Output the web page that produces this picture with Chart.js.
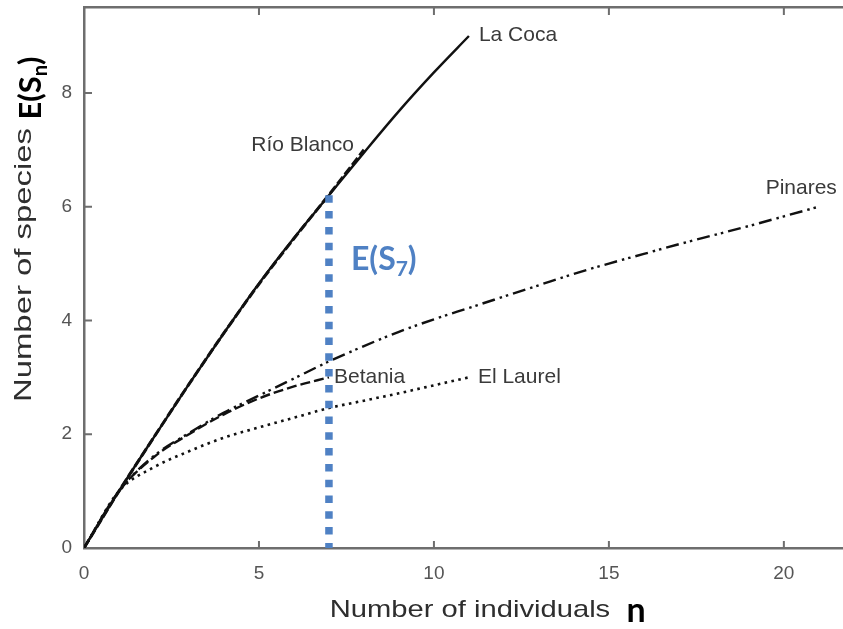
<!DOCTYPE html>
<html>
<head>
<meta charset="utf-8">
<script src="https://cdn.jsdelivr.net/npm/chart.js@4/dist/chart.umd.min.js"></script>
<style>
html,body{margin:0;padding:0;background:#fff;}
#wrap{width:843px;height:629px;position:relative;}
canvas{display:block;}
</style>
</head>
<body>
<div id="wrap"><canvas id="c" width="843" height="629"></canvas></div>
<script>
// ---- data ----
const nIndividuals = [0,1,2,3,4,5,6,7,8,9,10,11,12,13,14,15,16,17,18,19,20,21];
const laCoca    = [0, 1, 1.95, 2.88, 3.78, 4.65, 5.45, 6.2, 6.95, 7.68, 8.36, 9.0];
const rioBlanco = [0, 1, 1.95, 2.88, 3.78, 4.64, 5.44, 6.21, 7.0];
const betania   = [0, 1, 1.6, 2.0, 2.35, 2.63, 2.84, 3.0];
const pinares   = [0, 1, 1.62, 2.02, 2.38, 2.68, 2.98, 3.28, 3.55, 3.8, 4.02, 4.22, 4.42, 4.62, 4.82, 5.0, 5.17, 5.34, 5.5, 5.66, 5.83, 6.0];
const elLaurel  = [0, 1, 1.42, 1.7, 1.94, 2.12, 2.29, 2.46, 2.59, 2.72, 2.86, 3.0];
const siteNames = ['La Coca', 'Río Blanco', 'Betania', 'Pinares', 'El Laurel'];
const markerN = 7;
const markerTop = 6.2;
const xTicks = [0, 5, 10, 15, 20];
const yTicks = [0, 2, 4, 6, 8];
const xTitle = 'Number of individuals';
const yTitle = 'Number of species';

const toXY = arr => arr.map((s, i) => ({x: nIndividuals[i], y: s}));

const AXIS = '#6e6e6e';
const INK = '#111';

const base = {type: 'line', pointRadius: 0, fill: false, borderColor: INK, cubicInterpolationMode: 'monotone', borderCapStyle: 'butt'};
const datasets = [
  Object.assign({}, base, {label: 'E(S7)', data: [{x: markerN, y: markerTop}, {x: markerN, y: 0}], borderColor: '#4f81c4', borderWidth: 7.5, borderDash: [7.5, 8.3], cubicInterpolationMode: 'default', tension: 0, order: 0}),
  Object.assign({}, base, {label: siteNames[0], data: toXY(laCoca), borderWidth: 2.4, order: 2, lbl: {dx: 10, dy: -1, align: 'left'}}),
  Object.assign({}, base, {label: siteNames[1], data: toXY(rioBlanco), borderWidth: 3, borderDash: [9, 3], order: 1, lbl: {dx: -10, dy: -5, align: 'right'}}),
  Object.assign({}, base, {label: siteNames[2], data: toXY(betania), borderWidth: 2.4, borderDash: [10, 4], order: 3, lbl: {dx: 5, dy: 0, align: 'left'}}),
  Object.assign({}, base, {label: siteNames[3], data: toXY(pinares), borderWidth: 2.4, borderDash: [13, 5, 2.5, 4, 2.5, 5], order: 4, lbl: {dx: 18, dy: -18, align: 'right'}}),
  Object.assign({}, base, {label: siteNames[4], data: toXY(elLaurel), borderWidth: 2.6, borderDash: [2.6, 4.4], order: 5, lbl: {dx: 9, dy: 0, align: 'left'}})
];

function richText(ctx, parts, x, y, align) {
  let w = 0;
  parts.forEach(p => { ctx.font = p.font; p.w = ctx.measureText(p.t).width; w += p.w; });
  let cx = align === 'center' ? x - w / 2 : (align === 'right' ? x - w : x);
  ctx.textAlign = 'left';
  ctx.textBaseline = 'alphabetic';
  parts.forEach(p => { ctx.font = p.font; ctx.fillStyle = p.color; ctx.fillText(p.t, cx, y + (p.dy || 0)); cx += p.w; });
}

const decor = {
  id: 'decor',
  afterDraw(chart) {
    const ctx = chart.ctx;
    const ca = chart.chartArea;
    const sx = chart.scales.x, sy = chart.scales.y;
    ctx.save();
    // inward tick marks
    ctx.strokeStyle = AXIS;
    ctx.lineWidth = 2;
    ctx.beginPath();
    xTicks.forEach(v => {
      const px = sx.getPixelForValue(v);
      if (v !== 0) {
        ctx.moveTo(px, ca.bottom); ctx.lineTo(px, ca.bottom - 7);
        ctx.moveTo(px, ca.top); ctx.lineTo(px, ca.top + 8);
      }
    });
    yTicks.forEach(v => {
      const py = sy.getPixelForValue(v);
      if (v !== 0) { ctx.moveTo(ca.left, py); ctx.lineTo(ca.left + 8, py); }
    });
    ctx.stroke();

    // series labels at curve ends
    ctx.font = '21px "Liberation Sans", Arial, sans-serif';
    ctx.fillStyle = '#3a3a3a';
    ctx.textBaseline = 'middle';
    chart.data.datasets.forEach((ds, i) => {
      if (!ds.lbl) return;
      const meta = chart.getDatasetMeta(i);
      const last = meta.data[meta.data.length - 1];
      ctx.textAlign = ds.lbl.align;
      ctx.fillText(ds.label, last.x + ds.lbl.dx, last.y + ds.lbl.dy);
    });

    // E(S7) marker label
    const mx = sx.getPixelForValue(markerN);
    const my = sy.getPixelForValue(markerTop);
    const blue = '#4f81c4';
    richText(ctx, [
      {t: 'E(S', font: 'bold 32px Lato, "Open Sans", sans-serif', color: blue},
      {t: '7', font: 'bold 21px Lato, "Open Sans", sans-serif', color: blue, dy: 6},
      {t: ')', font: 'bold 32px Lato, "Open Sans", sans-serif', color: blue}
    ], mx + 22, my + 75, 'left');

    // x axis title
    ctx.font = '24px "Liberation Sans", Arial, sans-serif';
    ctx.fillStyle = '#2e2e2e';
    ctx.textAlign = 'center';
    ctx.textBaseline = 'alphabetic';
    ctx.save();
    ctx.translate(470, 617);
    ctx.scale(1.215, 1);
    ctx.fillText(xTitle, 0, 0);
    ctx.restore();
    richText(ctx, [{t: 'n', font: 'bold 34px Lato, "Liberation Sans", sans-serif', color: '#000'}], 636, 622, 'center');

    // y axis title (rotated)
    ctx.save();
    ctx.translate(31, 265);
    ctx.rotate(-Math.PI / 2);
    ctx.scale(1.37, 1);
    ctx.font = '24px "Liberation Sans", Arial, sans-serif';
    ctx.fillStyle = '#2e2e2e';
    ctx.textAlign = 'center';
    ctx.fillText(yTitle, 0, 0);
    ctx.restore();

    ctx.save();
    ctx.translate(41, 88);
    ctx.rotate(-Math.PI / 2);
    richText(ctx, [
      {t: 'E(S', font: 'bold 31px Lato, "Liberation Sans", sans-serif', color: '#000'},
      {t: 'n', font: 'bold 20px Lato, "Liberation Sans", sans-serif', color: '#000', dy: 6},
      {t: ')', font: 'bold 31px Lato, "Liberation Sans", sans-serif', color: '#000'}
    ], 0, 0, 'center');
    ctx.restore();
    ctx.restore();
  }
};

const tickFont = {family: '"Liberation Sans", Arial, sans-serif', size: 19};
const noPad = s => { s.paddingTop = 0; s.paddingBottom = 0; s.paddingLeft = 0; s.paddingRight = 0; };

new Chart(document.getElementById('c'), {
  data: {datasets},
  options: {
    responsive: false,
    animation: false,
    events: [],
    layout: {padding: 0},
    plugins: {legend: {display: false}, tooltip: {enabled: false}},
    scales: {
      x: {
        type: 'linear', position: 'bottom', min: 0, max: 21.69,
        afterFit: s => { s.height = 81; noPad(s); },
        afterBuildTicks: s => { s.ticks = xTicks.map(v => ({value: v})); },
        ticks: {font: tickFont, color: '#555', padding: 14, maxRotation: 0, includeBounds: false},
        grid: {display: true, drawOnChartArea: false, drawTicks: false},
        border: {display: true, color: AXIS, width: 2.5}
      },
      x2: {
        type: 'linear', position: 'top', min: 0, max: 21.69,
        afterFit: s => { s.height = 7; noPad(s); },
        ticks: {display: false},
        grid: {display: true, drawOnChartArea: false, drawTicks: false},
        border: {display: true, color: AXIS, width: 2.5}
      },
      y: {
        type: 'linear', position: 'left', min: 0, max: 9.51,
        afterFit: s => { s.width = 84; noPad(s); },
        afterBuildTicks: s => { s.ticks = yTicks.map(v => ({value: v})); },
        ticks: {font: tickFont, color: '#555', padding: 12, includeBounds: false},
        grid: {display: true, drawOnChartArea: false, drawTicks: false},
        border: {display: true, color: AXIS, width: 2.5}
      }
    }
  },
  plugins: [decor]
});
</script>
</body>
</html>
